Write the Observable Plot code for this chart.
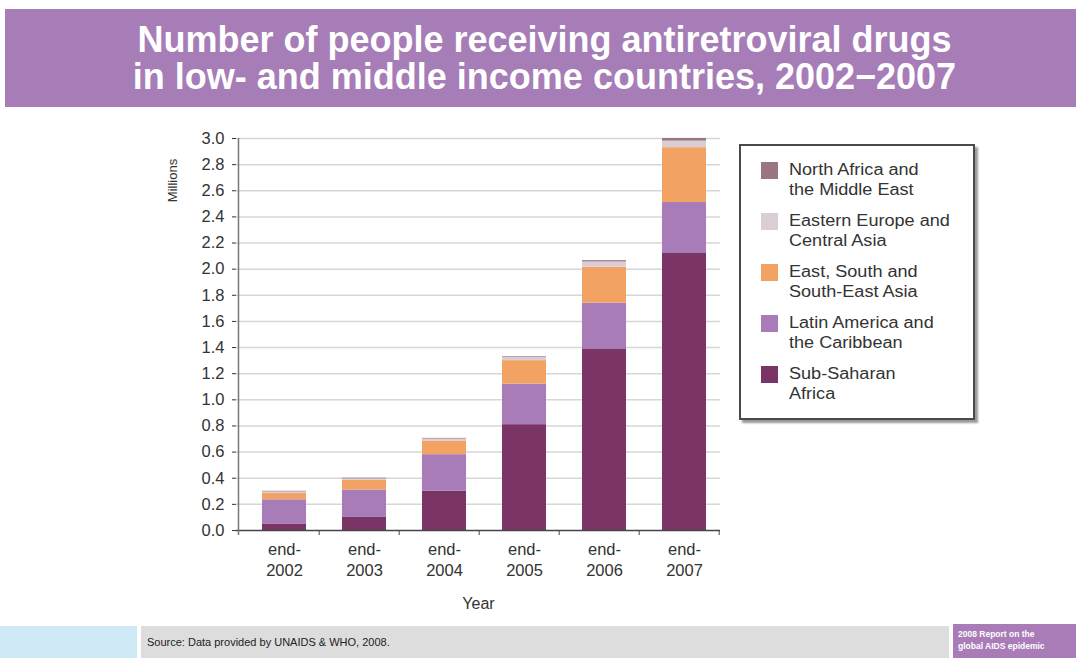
<!DOCTYPE html>
<html>
<head>
<meta charset="utf-8">
<script src="https://cdn.jsdelivr.net/npm/d3@7"></script>
<script src="https://cdn.jsdelivr.net/npm/@observablehq/plot@0.6"></script>
<style>
  body { margin: 0; background: #fff; font-family: "Liberation Sans", Arial, sans-serif; }
  #page { position: relative; width: 1076px; height: 658px; overflow: hidden; background: #fff; }
  #title { position: absolute; left: 5px; top: 9px; width: 1071px; height: 98px; background: #a67db7;
           color: #fff; font-weight: bold; font-size: 36px; line-height: 37px; text-align: center;
           box-sizing: border-box; padding-top: 12px; padding-left: 8px; }
  #chart { position: absolute; left: 0; top: 110px; }
  #legend { position: absolute; left: 739px; top: 144px; width: 236px; height: 276px; box-sizing: border-box;
            border: 2px solid #4a4a4a; box-shadow: 3px 3px 2px #9a9a9a; background: #fff; padding-top: 14px; }
  .entry { position: relative; height: 51px; }
  .sw { position: absolute; left: 20px; top: 2px; width: 17px; height: 17px; }
  .lab { position: absolute; left: 48px; top: 0; font-size: 16px; line-height: 20px; color: #333; white-space: nowrap;
         transform: scaleX(1.13); transform-origin: left center; }
  #fblue { position: absolute; left: 0; top: 626px; width: 137px; height: 32px; background: #cfe9f6; }
  #fgray { position: absolute; left: 141px; top: 626px; width: 808px; height: 32px; background: #dddddd; }
  #source { position: absolute; left: 147px; top: 636px; font-size: 11px; color: #222; }
  #fpurple { position: absolute; left: 953px; top: 624px; width: 123px; height: 34px; background: #a97cb8;
             color: #fff; font-weight: bold; font-size: 8.5px; line-height: 12px; padding: 4px 0 0 5px; box-sizing: border-box; white-space: nowrap; }
</style>
</head>
<body>
<div id="page">
  <div id="title">Number of people receiving antiretroviral drugs<br>in low- and middle income countries, 2002−2007</div>
  <div id="chart"></div>
  <div id="legend"></div>
  <div id="fblue"></div>
  <div id="fgray"></div>
  <div id="source">Source: Data provided by UNAIDS &amp; WHO, 2008.</div>
  <div id="fpurple">2008 Report on the<br>global AIDS epidemic</div>
</div>
<script>
// ---- data (millions of people) ----
const years = ["2002", "2003", "2004", "2005", "2006", "2007"];
const regions = [
  "Sub-Saharan Africa",
  "Latin America and the Caribbean",
  "East, South and South-East Asia",
  "Eastern Europe and Central Asia",
  "North Africa and the Middle East"
];
const legendLabels = [
  "Sub-Saharan<br>Africa",
  "Latin America and<br>the Caribbean",
  "East, South and<br>South-East Asia",
  "Eastern Europe and<br>Central Asia",
  "North Africa and<br>the Middle East"
];
const colors = ["#7b3466", "#a77cb8", "#f2a263", "#d9cdd6", "#9a7682"];
const subSaharanAfrica = [0.05, 0.10, 0.30, 0.81, 1.39, 2.12];
const latinAmerica     = [0.185, 0.21, 0.28, 0.31, 0.35, 0.39];
const eastSouthAsia    = [0.05, 0.075, 0.105, 0.18, 0.275, 0.42];
const easternEurope    = [0.01, 0.01, 0.015, 0.025, 0.04, 0.05];
const northAfricaME    = [0.005, 0.005, 0.005, 0.005, 0.01, 0.02];
const yTicks = [0.0, 0.2, 0.4, 0.6, 0.8, 1.0, 1.2, 1.4, 1.6, 1.8, 2.0, 2.2, 2.4, 2.6, 2.8, 3.0];

const series = [subSaharanAfrica, latinAmerica, eastSouthAsia, easternEurope, northAfricaME];
const rows = [];
years.forEach((yr, i) => series.forEach((s, k) => rows.push({year: yr, region: regions[k], value: s[i]})));

// ---- layout ----
const W = 760, H = 510;
const mL = 236, mR = 40, mT = 28, mB = 90;
const frameH = H - mT - mB;
const step = (W - mL - mR) / years.length;
const pin = 1 - 44 / step;
const align = 24 / (step * pin);
const center0 = mL + 24 + 22;           // centre of first band in px
const dxBoundary = mL + step - center0; // from band centre to right boundary
const dxAxis = mL - center0;

const chart = Plot.plot({
  width: W, height: H,
  marginLeft: mL, marginRight: mR, marginTop: mT, marginBottom: mB,
  style: {fontFamily: "'Liberation Sans', Arial, sans-serif", fontSize: "16.5px", color: "#333", background: "transparent", overflow: "visible"},
  x: {domain: years, axis: null, paddingInner: pin, paddingOuter: pin / 2, align: align},
  y: {domain: [0, 3], ticks: yTicks, tickFormat: d3.format(".1f"), tickSize: 4, tickPadding: 8, label: null},
  color: {domain: regions, range: colors},
  marks: [
    Plot.ruleY(yTicks.filter(v => v > 0), {stroke: "#d6d6d6", strokeWidth: 1.5}),
    Plot.barY(rows, Plot.stackY({x: "year", y: "value", fill: "region"})),
    Plot.ruleY([0], {stroke: "#444", strokeWidth: 1.5}),
    Plot.ruleX([years[0]], {x: d => d, dx: dxAxis, stroke: "#777", strokeWidth: 1.5, insetBottom: -5}),
    Plot.ruleX(years, {x: d => d, dx: dxBoundary, stroke: "#444", insetTop: frameH, insetBottom: -5}),
    Plot.text(years, {x: d => d, text: d => "end-\n" + d, frameAnchor: "bottom", lineAnchor: "top", dy: 9, lineHeight: 1.3, fontSize: 16.5, fill: "#333"}),
    Plot.text(["Year"], {text: d => d, frameAnchor: "bottom", lineAnchor: "middle", dy: 73, fontSize: 16, fill: "#333"}),
    Plot.text(["Millions"], {text: d => d, frameAnchor: "top-left", rotate: -90, dx: -64, dy: 42, textAnchor: "middle", lineAnchor: "middle", fontSize: 13, fill: "#333"})
  ]
});
document.getElementById("chart").appendChild(chart);

// ---- legend (top to bottom: reverse of stack order) ----
const legend = document.getElementById("legend");
for (let k = regions.length - 1; k >= 0; k--) {
  const e = document.createElement("div");
  e.className = "entry";
  e.innerHTML = `<div class="sw" style="background:${colors[k]}"></div><div class="lab">${legendLabels[k]}</div>`;
  legend.appendChild(e);
}
</script>
</body>
</html>
